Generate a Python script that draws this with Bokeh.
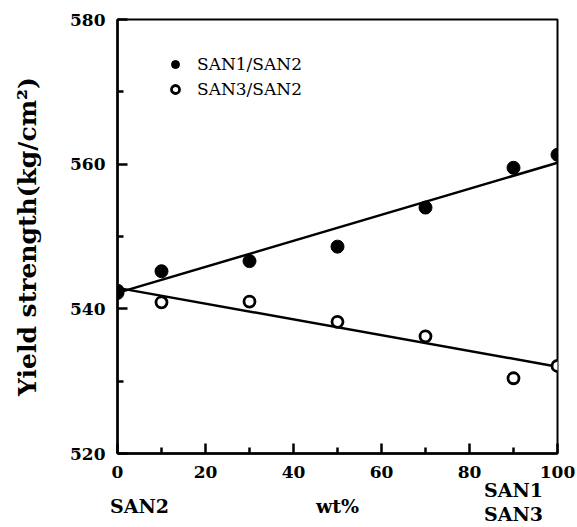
from bokeh.plotting import figure
from bokeh.models import Range1d, FixedTicker, Legend, LegendItem, LinearAxis
from bokeh.embed import file_html
from bokeh.resources import INLINE

# data
wt = [0, 10, 30, 50, 70, 90, 100]
san1_san2 = [542.2, 545.2, 546.6, 548.6, 554.0, 559.5, 561.3]
san3_san2 = [542.5, 540.9, 541.0, 538.2, 536.2, 530.4, 532.1]
fit_x = [0, 100]
fit_san1 = [542.2, 560.2]
fit_san3 = [542.9, 532.0]

x_major = [0, 20, 40, 60, 80, 100]
x_minor = [10, 30, 50, 70, 90]
y_major = [520, 540, 560, 580]
y_minor = [530, 550, 570]

# composition captions under the x axis: (position, text)
cap_top = {90: "SAN1"}
cap_mid = {5: "SAN2", 50: "wt%"}
cap_bot = {90: "SAN3"}

SERIF = "DejaVu Serif"

p = figure(width=577, height=527, output_backend="svg", toolbar_location=None,
           x_range=Range1d(0, 100), y_range=Range1d(520, 580),
           min_border_left=117, min_border_right=20, min_border_top=19, min_border_bottom=74)
p.background_fill_color = "white"
p.border_fill_color = "white"
p.grid.visible = False
p.outline_line_color = "black"
p.outline_line_width = 2

for ax in (p.xaxis[0], p.yaxis[0]):
    ax.axis_line_width = 2.5
    ax.major_tick_in = 10
    ax.major_tick_out = 0
    ax.minor_tick_in = 6
    ax.minor_tick_out = 0
    ax.major_tick_line_width = 2.5
    ax.minor_tick_line_width = 2.5
    ax.major_label_text_font = SERIF
    ax.major_label_text_font_style = "bold"
    ax.major_label_text_font_size = "17px"
    ax.major_label_text_color = "black"
    ax.axis_label_text_font = SERIF
    ax.axis_label_text_font_style = "bold"
    ax.axis_label_text_color = "black"

p.xaxis[0].ticker = FixedTicker(ticks=x_major, minor_ticks=x_minor)
p.yaxis[0].ticker = FixedTicker(ticks=y_major, minor_ticks=y_minor)
p.xaxis[0].major_label_standoff = 12
p.yaxis[0].major_label_standoff = 12

p.yaxis[0].axis_label = "Yield strength(kg/cm²)"
p.yaxis[0].axis_label_text_font_size = "25px"
p.yaxis[0].axis_label_standoff = 25


def caption_axis(labels, standoff):
    ax = LinearAxis(ticker=FixedTicker(ticks=list(labels.keys()), minor_ticks=[]),
                    major_label_overrides={k: v for k, v in labels.items()})
    ax.axis_line_color = None
    ax.major_tick_line_color = None
    ax.minor_tick_line_color = None
    ax.major_tick_out = 0
    ax.major_tick_in = 0
    ax.major_label_standoff = standoff
    ax.major_label_text_font = SERIF
    ax.major_label_text_font_style = "bold"
    ax.major_label_text_font_size = "19px"
    ax.major_label_text_color = "black"
    return ax


p.add_layout(caption_axis(cap_top, -2), "below")
p.add_layout(caption_axis(cap_mid, -9), "below")
p.add_layout(caption_axis(cap_bot, -17), "below")

p.line(fit_x, fit_san1, line_color="black", line_width=2.5)
p.line(fit_x, fit_san3, line_color="black", line_width=2.5)
r2 = p.scatter(wt, san3_san2, marker="circle", size=11, fill_color="white", line_color="black", line_width=2.8)
r1 = p.scatter(wt, san1_san2, marker="circle", size=13, fill_color="black", line_color="black")

legend = Legend(items=[LegendItem(label="SAN1/SAN2", renderers=[r1]),
                       LegendItem(label="SAN3/SAN2", renderers=[r2])],
                location=(43, 349), border_line_alpha=0, background_fill_alpha=0,
                padding=5, spacing=5, glyph_width=20, glyph_height=20, label_height=20,
                label_standoff=12, label_text_font=SERIF, label_text_font_size="17px",
                label_text_color="black")
p.add_layout(legend)

open("out.html", "w").write(file_html(p, INLINE))
